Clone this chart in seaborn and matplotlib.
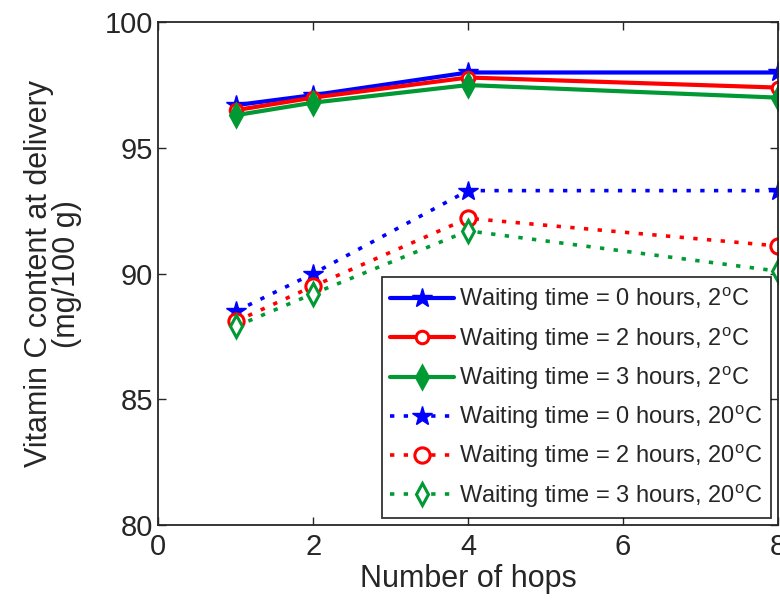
import seaborn as sns
import matplotlib
matplotlib.use("Agg")
import matplotlib.pyplot as plt
import pandas as pd

sns.set_style("ticks")
plt.rcParams['font.family'] = ['Liberation Sans', 'DejaVu Sans']
plt.rcParams['mathtext.fontset'] = 'custom'
plt.rcParams['mathtext.rm'] = 'Liberation Sans'

hops = [1, 2, 4, 8]
wait_0h_2c = [96.7, 97.1, 98.0, 98.0]
wait_2h_2c = [96.5, 97.0, 97.8, 97.4]
wait_3h_2c = [96.3, 96.8, 97.5, 97.0]
wait_0h_20c = [88.5, 90.0, 93.3, 93.3]
wait_2h_20c = [88.1, 89.5, 92.2, 91.1]
wait_3h_20c = [87.9, 89.2, 91.7, 90.1]

deg = r"$^{\mathrm{o}}$"
labels = [
    "Waiting time = 0 hours, 2" + deg + "C",
    "Waiting time = 2 hours, 2" + deg + "C",
    "Waiting time = 3 hours, 2" + deg + "C",
    "Waiting time = 0 hours, 20" + deg + "C",
    "Waiting time = 2 hours, 20" + deg + "C",
    "Waiting time = 3 hours, 20" + deg + "C",
]
series = [wait_0h_2c, wait_2h_2c, wait_3h_2c, wait_0h_20c, wait_2h_20c, wait_3h_20c]

rows = []
for lab, vals in zip(labels, series):
    for h, v in zip(hops, vals):
        rows.append({"hops": h, "vitc": v, "series": lab})
df = pd.DataFrame(rows)

colors = ["#0000ff", "#ff0000", "#009933"] * 2
palette = dict(zip(labels, colors))
markers = dict(zip(labels, ["*", "o", "d"] * 2))
dashes = dict(zip(labels, [""] * 3 + [(1.2, 2.6)] * 3))

fig = plt.figure(figsize=(7.8, 6), dpi=100)
ax = fig.add_axes([0.203, 0.125, 0.794, 0.838])

sns.lineplot(data=df, x="hops", y="vitc", hue="series", style="series",
             palette=palette, markers=markers, dashes=dashes,
             hue_order=labels, style_order=labels,
             linewidth=3, markersize=11, markeredgewidth=2.2,
             ax=ax, legend=False)

for line, lab in zip(ax.get_lines(), labels):
    c = palette[lab]
    line.set_markeredgecolor(c)
    m = markers[lab]
    if m == "*":
        line.set_markersize(15)
        line.set_markeredgewidth(1)
    elif m == "o":
        line.set_markerfacecolor("white")
        line.set_markersize(9 if "20" + deg not in lab else 11)
    elif "20" + deg in lab:
        line.set_markerfacecolor("white")
    if "20" + deg in lab:
        line.set_linewidth(2.6)
    line.set_label(lab)

ax.set_xlim(0, 8)
ax.set_ylim(80, 100)
ax.set_xticks([0, 2, 4, 6, 8])
ax.set_yticks([80, 85, 90, 95, 100])
ax.tick_params(direction="in", top=True, right=True, labelsize=21, length=6, width=1,
               pad=4)
ax.tick_params(axis="x", pad=6)
for s in ax.spines.values():
    s.set_visible(True)
    s.set_linewidth(1.3)
ax.set_xlabel("Number of hops", fontsize=22, labelpad=2)
ax.set_ylabel("Vitamin C content at delivery\n(mg/100 g)", fontsize=22, linespacing=0.9,
              labelpad=16)

leg = ax.legend(handles=ax.get_lines(), labels=labels, loc="lower right",
                fontsize=17, frameon=True, fancybox=False, edgecolor="black",
                borderaxespad=0.3, handlelength=2.7, handletextpad=0.2,
                labelspacing=0.48, borderpad=0.35)
leg.get_frame().set_linewidth(1.3)

fig.savefig("out.png", dpi=100)
